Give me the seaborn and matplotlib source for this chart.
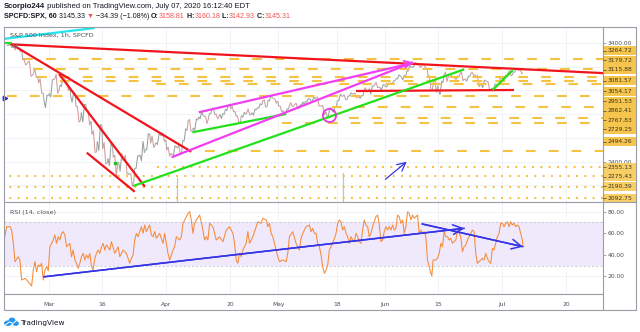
import numpy as np
import pandas as pd
import matplotlib
matplotlib.use("Agg")
import matplotlib.pyplot as plt
import matplotlib.transforms as mtransforms
from matplotlib.collections import LineCollection
from matplotlib.lines import Line2D
from matplotlib.patches import Rectangle, Ellipse
import seaborn as sns

# ------------------------------------------------------------------
# Daily session prices (S&P 500 CFD)
# ------------------------------------------------------------------
dates = ['2020-02-19', '2020-02-20', '2020-02-21', '2020-02-24', '2020-02-25', '2020-02-26',
         '2020-02-27', '2020-02-28', '2020-03-02', '2020-03-03', '2020-03-04', '2020-03-05',
         '2020-03-06', '2020-03-09', '2020-03-10', '2020-03-11', '2020-03-12', '2020-03-13',
         '2020-03-16', '2020-03-17', '2020-03-18', '2020-03-19', '2020-03-20', '2020-03-23',
         '2020-03-24', '2020-03-25', '2020-03-26', '2020-03-27', '2020-03-30', '2020-03-31',
         '2020-04-01', '2020-04-02', '2020-04-03', '2020-04-06', '2020-04-07', '2020-04-08',
         '2020-04-09', '2020-04-13', '2020-04-14', '2020-04-15', '2020-04-16', '2020-04-17',
         '2020-04-20', '2020-04-21', '2020-04-22', '2020-04-23', '2020-04-24', '2020-04-27',
         '2020-04-28', '2020-04-29', '2020-04-30', '2020-05-01', '2020-05-04', '2020-05-05',
         '2020-05-06', '2020-05-07', '2020-05-08', '2020-05-11', '2020-05-12', '2020-05-13',
         '2020-05-14', '2020-05-15', '2020-05-18', '2020-05-19', '2020-05-20', '2020-05-21',
         '2020-05-22', '2020-05-26', '2020-05-27', '2020-05-28', '2020-05-29', '2020-06-01',
         '2020-06-02', '2020-06-03', '2020-06-04', '2020-06-05', '2020-06-08', '2020-06-09',
         '2020-06-10', '2020-06-11', '2020-06-12', '2020-06-15', '2020-06-16', '2020-06-17',
         '2020-06-18', '2020-06-19', '2020-06-22', '2020-06-23', '2020-06-24', '2020-06-25',
         '2020-06-26', '2020-06-29', '2020-06-30', '2020-07-01', '2020-07-02', '2020-07-06',
         '2020-07-07']
opens = [3380.4, 3380.5, 3360.5, 3257.6, 3238.9, 3139.9, 3062.5, 2916.9, 2974.3, 3096.5,
         3045.8, 3075.7, 2954.2, 2863.9, 2813.5, 2825.6, 2630.9, 2570.0, 2508.6, 2425.7,
         2436.5, 2393.5, 2431.9, 2290.7, 2344.4, 2457.8, 2501.3, 2555.9, 2559.0, 2614.7,
         2498.1, 2458.5, 2514.9, 2578.3, 2738.7, 2685.0, 2777.0, 2782.5, 2805.1, 2795.6,
         2799.3, 2842.4, 2845.6, 2784.8, 2787.9, 2810.4, 2812.6, 2854.7, 2910.0, 2918.5,
         2930.9, 2869.1, 2815.0, 2868.9, 2883.1, 2878.3, 2908.8, 2915.5, 2939.5, 2865.9,
         2794.5, 2830.0, 2913.9, 2948.6, 2953.6, 2970.0, 2948.1, 3004.1, 3015.7, 3046.6,
         3025.2, 3031.5, 3064.8, 3098.9, 3111.6, 3163.8, 3199.9, 3213.3, 3213.4, 3123.5,
         3071.0, 2993.8, 3131.0, 3136.1, 3101.6, 3140.3, 3094.4, 3138.7, 3114.4, 3046.6,
         3073.2, 3018.6, 3050.2, 3105.9, 3143.6, 3155.3, 3166.4]
highs = [3393.5, 3389.2, 3360.8, 3259.8, 3247.0, 3182.5, 3097.1, 2959.7, 3091.0, 3136.7,
         3131.0, 3083.0, 2985.9, 2863.9, 2882.6, 2825.6, 2661.0, 2711.3, 2563.0, 2553.9,
         2453.6, 2467.0, 2453.0, 2300.7, 2449.7, 2571.4, 2637.0, 2615.9, 2631.8, 2641.4,
         2522.8, 2533.2, 2538.2, 2676.9, 2756.9, 2760.8, 2818.6, 2782.5, 2851.9, 2801.9,
         2806.5, 2879.2, 2869.0, 2785.5, 2815.1, 2844.2, 2842.7, 2887.7, 2921.4, 2954.9,
         2930.9, 2869.1, 2844.2, 2898.2, 2891.1, 2901.9, 2932.2, 2944.3, 2945.8, 2874.7,
         2852.8, 2865.0, 2968.1, 2964.2, 2980.3, 2978.5, 2956.8, 3021.7, 3036.3, 3068.7,
         3049.2, 3062.2, 3081.1, 3130.9, 3128.9, 3211.7, 3233.1, 3222.7, 3223.3, 3123.5,
         3088.4, 3079.8, 3153.5, 3141.2, 3120.9, 3155.5, 3120.9, 3154.9, 3128.4, 3086.3,
         3073.7, 3053.9, 3111.5, 3128.4, 3165.8, 3182.6, 3184.2]
lows = [3378.8, 3341.0, 3328.5, 3214.7, 3118.8, 3109.0, 2977.4, 2855.8, 2945.2, 2976.6,
        3034.4, 2999.8, 2901.5, 2734.4, 2734.0, 2707.2, 2478.9, 2492.4, 2380.9, 2367.0,
        2280.5, 2319.8, 2295.6, 2191.9, 2344.4, 2407.5, 2500.7, 2520.0, 2545.3, 2571.2,
        2447.5, 2455.8, 2460.0, 2574.6, 2657.7, 2663.3, 2762.4, 2721.2, 2805.1, 2761.5,
        2764.3, 2830.9, 2820.4, 2727.1, 2776.0, 2794.3, 2791.8, 2852.9, 2860.7, 2912.2,
        2892.5, 2821.6, 2797.9, 2863.6, 2847.7, 2876.5, 2902.9, 2903.4, 2869.6, 2793.2,
        2766.6, 2816.8, 2913.9, 2922.4, 2953.6, 2938.6, 2933.6, 2988.2, 2969.8, 3023.4,
        2998.6, 3031.5, 3051.6, 3098.9, 3090.4, 3163.8, 3196.0, 3193.1, 3181.5, 2999.5,
        2984.5, 2965.7, 3076.1, 3108.0, 3093.5, 3083.1, 3079.4, 3127.1, 3033.1, 3024.0,
        3004.6, 2999.7, 3047.8, 3101.2, 3124.5, 3155.3, 3142.9]
closes = [3386.2, 3373.2, 3337.8, 3225.9, 3128.2, 3116.4, 2978.8, 2954.2, 3090.2, 3003.4,
          3130.1, 3023.9, 2972.4, 2746.6, 2882.2, 2741.4, 2480.6, 2711.0, 2386.1, 2529.2,
          2398.1, 2409.4, 2304.9, 2237.4, 2447.3, 2475.6, 2630.1, 2541.5, 2626.7, 2584.6,
          2470.5, 2526.9, 2488.7, 2663.7, 2659.4, 2750.0, 2789.8, 2761.6, 2846.1, 2783.4,
          2799.6, 2874.6, 2823.2, 2736.6, 2799.3, 2797.8, 2836.7, 2878.5, 2863.4, 2939.5,
          2912.4, 2830.7, 2842.7, 2868.4, 2848.4, 2881.2, 2929.8, 2930.3, 2870.1, 2820.0,
          2852.5, 2863.7, 2953.9, 2922.9, 2971.6, 2948.5, 2955.5, 2991.8, 3036.1, 3029.7,
          3044.3, 3055.7, 3080.8, 3122.9, 3112.4, 3193.9, 3232.4, 3207.2, 3190.1, 3002.1,
          3041.3, 3066.6, 3124.7, 3113.5, 3115.3, 3097.7, 3117.9, 3131.3, 3050.3, 3083.8,
          3009.1, 3053.2, 3100.3, 3115.9, 3130.0, 3179.7, 3145.3]

# bad ticks in the CFD feed: (session day, top of the spike)
spike_days = ['2020-04-03', '2020-05-19']
spike_tops = [2262.0, 2302.0]

# RSI(14) readings: position in sessions from 2 March, value
rsi_day = [-8.42, -7.92, -7.30, -6.99, -6.67, -6.36, -5.74, -5.43, -5.12, -4.49, -3.87, -3.24,
           -2.93, -2.62, -2.31, -2.00, -1.68, -1.37, -1.06, -0.75, -0.44, -0.13, 0.19, 0.50,
           0.81, 1.12, 1.44, 1.75, 2.06, 2.37, 2.68, 2.99, 3.31, 3.93, 4.24, 4.55, 4.87, 5.18,
           5.49, 5.80, 6.11, 6.43, 6.74, 7.05, 7.36, 7.67, 7.99, 8.30, 8.61, 8.92, 9.23, 9.54,
           9.86, 10.17, 10.48, 10.79, 11.42, 11.73, 12.35, 12.98, 13.29, 13.91, 14.53, 15.16,
           15.47, 15.78, 16.09, 16.41, 16.72, 17.03, 17.34, 17.65, 17.97, 18.28, 18.90, 19.21,
           19.53, 19.84, 20.15, 20.77, 21.40, 21.71, 22.02, 22.33, 22.64, 22.96, 23.27, 23.58,
           23.89, 24.52, 24.83, 25.14, 25.45, 26.08, 26.39, 26.70, 27.01, 27.32, 27.63, 28.26,
           28.57, 28.88, 29.19, 29.51, 29.82, 30.13, 30.75, 31.38, 32.00, 32.63, 33.25, 33.87,
           34.50, 34.81, 35.12, 35.43, 35.74, 36.06, 36.37, 36.99, 37.30, 37.62, 38.24, 38.86,
           39.18, 39.80, 40.11, 40.73, 41.05, 41.36, 41.67, 41.98, 42.29, 42.92, 43.23, 43.85,
           44.48, 44.79, 45.10, 45.72, 46.35, 46.97, 47.28, 47.60, 48.22, 48.84, 49.16, 49.47,
           49.78, 50.09, 50.40, 50.72, 51.03, 51.34, 51.66, 51.97, 52.28, 52.59, 52.90, 53.22,
           53.84, 54.15, 54.46, 54.77, 55.09, 55.40, 55.71, 56.02, 56.33, 56.65, 56.96, 57.27,
           57.58, 57.89, 58.21, 58.52, 58.83, 59.14, 59.45, 59.77, 60.08, 60.39, 60.70, 61.01,
           61.32, 61.64, 61.95, 62.26, 62.57, 62.88, 63.20, 63.51, 63.82, 64.13, 64.44, 64.76,
           65.07, 65.38, 65.69, 66.00, 66.32, 66.63, 66.94, 67.25, 67.56, 67.87, 68.19, 68.50,
           68.81, 69.12, 69.43, 69.75, 70.06, 70.37, 70.68, 70.99, 71.31, 71.62, 71.80, 72.05,
           72.55, 72.86, 73.18, 73.49, 73.80, 74.11, 74.42, 74.74, 75.05, 75.36, 75.67, 75.98,
           76.30, 76.61, 76.92, 77.23, 77.54, 77.86, 78.17, 78.48, 78.79, 79.10, 79.41, 79.73,
           80.04, 80.35, 80.66, 80.97, 81.29, 81.60, 81.91, 82.22, 82.53, 82.85, 83.16, 83.47,
           83.78, 84.09, 84.41, 84.72, 85.03, 85.34, 85.65, 85.97, 86.28, 86.59, 86.90, 87.21,
           87.53, 87.84, 88.15, 88.46, 88.77, 88.90]
rsi_value = [53.7, 66.1, 66.1, 63.0, 50.6, 33.6, 38.2, 35.2, 16.6, 18.1, 15.0, 11.0,
             25.9, 33.6, 24.3, 30.5, 29.0, 32.1, 16.6, 25.9, 29.0, 25.3, 47.5, 50.6,
             53.7, 58.4, 50.6, 56.8, 53.7, 59.9, 61.5, 58.4, 47.5, 50.6, 38.2, 44.4, 35.2, 32.1,
             27.4, 32.1, 38.2, 41.3, 35.2, 39.8, 36.7, 41.3, 29.0, 25.9, 36.7, 41.3, 44.4, 41.3,
             47.5, 50.6, 44.4, 49.1, 44.4, 52.2, 41.3, 47.5, 38.2, 44.4, 41.3, 32.1,
             36.7, 39.8, 53.7, 59.9, 56.8, 61.5, 66.1, 59.9, 67.6, 61.5, 67.6, 58.4,
             56.8, 61.5, 55.3, 59.9, 50.6, 59.9, 50.6, 41.3, 35.2, 39.8, 44.4, 47.5,
             56.8, 53.7, 56.8, 69.2, 72.3, 78.5, 80.0, 72.3, 59.9, 69.2, 72.3, 76.9,
             70.7, 63.0, 53.7, 56.8, 53.7, 69.2, 66.1, 53.7, 56.8, 52.2, 63.0, 66.1,
             59.9, 50.6, 35.2, 32.1, 41.3, 38.2, 44.4, 50.6, 61.5, 50.6, 56.8, 66.1,
             70.7, 69.2, 73.8, 72.3, 66.1, 69.2, 59.9, 56.8, 50.6, 38.2, 33.6, 35.2,
             33.6, 41.3, 56.8, 61.5, 50.6, 44.4, 55.3, 59.9, 66.1, 67.6, 61.5, 64.5,
             59.9, 59.9, 50.6, 47.5, 39.8, 29.0, 22.8, 25.9, 30.5, 44.4, 47.5, 50.6,
             59.9, 69.2, 72.3, 70.7, 63.0, 66.1, 59.9, 56.8, 50.6, 56.8, 53.7, 52.2,
             59.9, 56.8, 52.2, 50.6, 63.0, 72.3, 67.6, 66.1, 56.8, 59.9, 66.1, 70.7,
             75.4, 76.9, 67.6, 52.2, 53.7, 61.5, 66.1, 63.0, 66.1, 63.0, 67.6, 63.0,
             64.5, 76.9, 75.4, 69.2, 72.3, 59.9, 66.1, 80.0, 78.5, 72.3, 76.9, 73.8,
             75.4, 76.9, 59.9, 63.0, 59.9, 61.5, 56.8, 35.2, 29.0, 22.8, 20.3, 35.2,
             35.2, 36.7, 41.3, 50.6, 47.5, 61.5, 56.8, 56.8, 53.7, 55.3, 50.6, 52.2,
             53.7, 63.0, 59.9, 56.8, 42.9, 47.5, 49.1, 53.7, 56.8, 59.9, 63.0, 61.5,
             41.3, 32.1, 33.6, 35.2, 36.7, 35.2, 41.3, 36.7, 33.6, 32.1, 46.0, 44.4,
             50.6, 56.8, 59.9, 69.2, 69.2, 66.1, 69.2, 70.7, 66.1, 70.7, 67.6, 69.2,
             66.1, 67.6, 66.1, 59.9, 53.7, 47.5]

# horizontal levels: price, first session offset where the line starts
dashed_levels = [3264.72, 3179.72, 3115.88, 3081.57, 3054.17, 2951.53, 2862.41, 2767.83, 2729.25, 2494.26]
dashed_start = [-4.9, -3.0, -2.2, 2.1, 20.0, -7.9, 53.0, 56.3, 43.8, 29.2]
dotted_levels = [2355.13, 2275.43, 2190.39, 2092.75]
dotted_start = [20.2, -9.0, -9.0, -9.0]

# hand-drawn trend lines: (session offset, price) -> (session offset, price)
red_lines = [(-7.3, 3389.0, 105.0, 3144.0), (-7.3, 3397.5, 26.7, 2484.0),
             (1.9, 3139.0, 18.0, 2189.0), (7.1, 2476.0, 16.1, 2147.0),
             (57.6, 2995.6, 87.2, 3004.1)]
green_lines = [(15.8, 2195.3, 77.9, 3178.5), (26.9, 2647.7, 44.5, 2801.9),
               (83.2, 3004.0, 87.0, 3172.6), (-8.6, 3397.5, -6.9, 3397.5)]
magenta_lines = [(23.0, 2437.1, 68.3, 3237.4), (28.1, 2816.2, 68.3, 3231.5)]
cyan_lines = [(-8.6, 3433.7, 8.6, 3526.4)]
blue_price_arrow = (63.1, 2251.7, 67.1, 2400.0)
circle_mark = (52.5, 2793.5)
green_mark = (12.35, 2386.5)
left_marker_price = 2936.7
rsi_arrows = [(-0.9, 19.6, 77.9, 64.6), (70.0, 68.6, 88.9, 47.5)]

price_ticks = [2200, 2400, 2600, 2800, 3000, 3200, 3400]
price_tick_shown = [False, True, False, False, False, False, True]
rsi_ticks = [20, 40, 60, 80]
date_ticks = ['2020-03-02', '2020-03-16', '2020-04-01', '2020-04-20', '2020-05-01',
              '2020-05-18', '2020-06-01', '2020-06-15', '2020-07-01', '2020-07-20']
date_tick_labels = ['Mar', '16', 'Apr', '20', 'May', '18', 'Jun', '15', 'Jul', '20']

# ------------------------------------------------------------------
# session calendar (no weekends / exchange holidays)
# ------------------------------------------------------------------
holidays = pd.to_datetime(['2020-02-17', '2020-04-10', '2020-05-25', '2020-07-03'])
sessions = pd.bdate_range('2020-02-03', '2020-08-31')
sessions = sessions[~sessions.isin(holidays)]
base = sessions.get_loc(pd.Timestamp('2020-03-02'))


def slot(d):
    return sessions.get_loc(pd.Timestamp(d)) - base


# ------------------------------------------------------------------
sns.set_theme(style="white")
plt.rcParams['font.family'] = ['DejaVu Sans']
plt.rcParams['lines.scale_dashes'] = False

W, H = 640, 332
fig = plt.figure(figsize=(W / 100, H / 100), dpi=100)
fig.patch.set_facecolor('white')
px = mtransforms.Affine2D().scale(1.0 / W, -1.0 / H).translate(0, 1) + fig.transFigure

L, R = 4, 603
TOP, MID, BOT, FOOT = 27, 202, 294, 310
ax_p = fig.add_axes([L / W, 1 - MID / H, (R - L) / W, (MID - TOP) / H])
ax_r = fig.add_axes([L / W, 1 - BOT / H, (R - L) / W, (BOT - MID) / H], sharex=ax_p)

XMIN, XMAX = -8.42, 103.9
ax_p.set_xlim(XMIN, XMAX)
ax_p.set_ylim(2060.5, 3534.8)
ax_r.set_ylim(3.6, 89.0)

grid_col = '#eef1f6'
frame_col = '#9a9da6'
text_col = '#4c4f57'
for ax in (ax_p, ax_r):
    ax.set_facecolor('white')
    for s in ax.spines.values():
        s.set_visible(False)
    ax.grid(True, color=grid_col, linewidth=0.6)
    ax.set_axisbelow(True)
    ax.yaxis.tick_right()
    ax.tick_params(axis='y', direction='out', length=2, width=0.5, color='#888',
                   labelsize=4.3, labelcolor=text_col, pad=1.5)

tick_pos = [slot(d) for d in date_ticks]
ax_r.set_xticks(tick_pos)
ax_r.set_xticklabels(date_tick_labels)
ax_r.tick_params(axis='x', direction='out', length=2, width=0.5, color='#888',
                 labelsize=4.3, labelcolor=text_col, pad=4)
ax_p.tick_params(axis='x', length=0, labelbottom=False)

ax_p.set_yticks(price_ticks)
ax_p.set_yticklabels([f'{v:.2f}' if show else '' for v, show in zip(price_ticks, price_tick_shown)])
ax_r.set_yticks(rsi_ticks)
ax_r.set_yticklabels([f'{v:.2f}' for v in rsi_ticks])

# ---- price path: each session drawn open -> extreme -> extreme -> close ----
segs, cols = [], []
prev = None
for d, o, h, lo, c in zip(dates, opens, highs, lows, closes):
    s = slot(d)
    if c >= o:
        path = [(s + 0.08, o), (s + 0.35, lo), (s + 0.65, h), (s + 0.92, c)]
        col = '#98a19e'
    else:
        path = [(s + 0.08, o), (s + 0.35, h), (s + 0.65, lo), (s + 0.92, c)]
        col = '#d69a9a'
    if prev is not None:
        segs.append([prev, path[0]])
        cols.append('#a8a8a8')
    segs.append(path)
    cols.append(col)
    prev = path[-1]
ax_p.add_collection(LineCollection(segs, colors=cols, linewidths=0.75, zorder=3))

for d, top in zip(spike_days, spike_tops):
    s = slot(d) + 0.1
    ax_p.plot([s, s], [top, 2000], color='#c8c0c0', lw=0.9, zorder=3)

# ---- horizontal levels ----
lvl_col = '#f5c242'
for p, x0 in zip(dashed_levels, dashed_start):
    ax_p.plot([x0, XMAX + 1], [p, p], color=lvl_col, lw=1.5, dashes=(7.0, 9.5),
              solid_capstyle='butt', dash_capstyle='butt', zorder=4)
for p, x0 in zip(dotted_levels, dotted_start):
    ax_p.plot([x0, XMAX + 1], [p, p], color=lvl_col, lw=1.5, dashes=(1.4, 4.6),
              dash_capstyle='butt', zorder=4)

# ---- trend lines ----
def seg(ax, ln, color, lw=1.6, z=6):
    ax.plot([ln[0], ln[2]], [ln[1], ln[3]], color=color, lw=lw, solid_capstyle='butt', zorder=z)

for ln in red_lines:
    seg(ax_p, ln, '#f2141c')
for ln in green_lines:
    seg(ax_p, ln, '#22e01a')
for ln in magenta_lines:
    seg(ax_p, ln, '#f03ef0')
for ln in cyan_lines:
    seg(ax_p, ln, '#22e4ee', z=7)

ax_p.annotate('', xy=magenta_lines[0][2:], xytext=(magenta_lines[0][2] - 2, magenta_lines[0][3] - 20),
              arrowprops=dict(arrowstyle='->,head_length=0.5,head_width=0.25', color='#f03ef0',
                              lw=1.3, shrinkA=0, shrinkB=0, mutation_scale=10), zorder=7)
ax_p.annotate('', xy=blue_price_arrow[2:], xytext=blue_price_arrow[:2],
              arrowprops=dict(arrowstyle='->,head_length=0.6,head_width=0.3', color='#3434e6',
                              lw=0.9, shrinkA=0, shrinkB=0, mutation_scale=10), zorder=7)
ax_p.plot([circle_mark[0]], [circle_mark[1]], marker='o', markersize=9.5, markerfacecolor='none',
          markeredgecolor='#e838e0', markeredgewidth=1.3, zorder=7)
ax_p.plot([green_mark[0]], [green_mark[1]], marker='s', markersize=2, color='#22c01a', zorder=7)
ax_p.plot([XMIN + 0.25], [left_marker_price], marker='>', markersize=3.2, color='#3030e0',
          clip_on=False, zorder=8)

# ---- RSI pane ----
ax_r.axhspan(30, 70, facecolor='#f0e8fb', lw=0)
for v in (30, 70):
    ax_r.axhline(v, color='#b9b9c4', lw=0.5, dashes=(1.5, 1.5))
sns.lineplot(x=rsi_day, y=rsi_value, ax=ax_r, color='#f68b3a', linewidth=0.75,
             sort=False, estimator=None, zorder=4)
ax_r.set_xlabel('')
ax_r.set_ylabel('')
ax_r.set_xlim(XMIN, XMAX)
for a in rsi_arrows:
    ax_r.plot([a[0], a[2]], [a[1], a[3]], color='#3434e6', lw=1.1, zorder=6)
    ax_r.annotate('', xy=a[2:], xytext=a[:2],
                  arrowprops=dict(arrowstyle='->,head_length=0.7,head_width=0.35', color='#3434e6',
                                  lw=1.1, shrinkA=0, shrinkB=0, mutation_scale=10), zorder=6)

# ---- frame ----
def px_line(xs, ys, **kw):
    fig.add_artist(Line2D(xs, ys, transform=px, **kw))

fc = dict(color=frame_col, lw=0.8)
px_line([L, 636], [TOP, TOP], **fc)
px_line([L, 636], [FOOT, FOOT], **fc)
px_line([L, L], [TOP, FOOT], **fc)
px_line([636, 636], [TOP, FOOT], **fc)
px_line([R, R], [TOP, FOOT], **fc)
px_line([L, 636], [MID, MID], **fc)
px_line([L, R], [BOT, BOT], **fc)

# ---- price labels on the scale ----
label_rows = [50.7, 60.2, 69.6, 80.8, 91.2, 101.2, 110.7, 120.0, 129.3, 141.7,
              167.3, 176.7, 186.2, 198.3]
all_levels = dashed_levels + dotted_levels
for i, (p, yc) in enumerate(zip(all_levels, label_rows)):
    fcol = '#f6c54e' if i < len(dashed_levels) else '#f8cf66'
    fig.add_artist(Rectangle((R + 0.5, yc - 4.6), 636 - R - 1, 9.2, transform=px,
                             facecolor=fcol, edgecolor='none'))
    px_line([R, R + 2.5], [yc, yc], color='#5a4a20', lw=0.5)
    fig.text(R + 4.5, yc, f'{p:.2f}', transform=px, fontsize=4.3, color='#3a3320',
             va='center', ha='left')

# ---- text ----
fig.text(10, 35.5, 'S&P 500 Index, 1h, SPCFD', transform=px, fontsize=4.6,
         color='#4c4f57', va='center', ha='left')
fig.text(10, 46.5, 'Vol', transform=px, fontsize=4.0, color='#777', va='center', ha='left')
fig.text(10, 212.3, 'RSI (14, close)', transform=px, fontsize=4.6, color='#4c4f57',
         va='center', ha='left')

renderer = fig.canvas.get_renderer()
head_font = ['Liberation Sans', 'DejaVu Sans']


def put_pieces(x, y, pieces, size, right_edge):
    # measure once, then rescale so the row ends at right_edge
    width = 0
    for s, color, weight in pieces:
        t = fig.text(0, 0, s, fontsize=size, fontweight=weight, family=head_font)
        width += t.get_window_extent(renderer).width
        t.remove()
    size = size * (right_edge - x) / width
    for s, color, weight in pieces:
        t = fig.text(x, y, s, transform=px, fontsize=size, color=color, fontweight=weight,
                     family=head_font, va='center', ha='left')
        x += t.get_window_extent(renderer).width


dark = '#131722'
red = '#ef5350'
put_pieces(4, 6.7, [('Scorpio244', dark, 'bold'),
                    (' published on TradingView.com, July 07, 2020 16:12:40 EDT', dark, 'normal')],
           5.0, 251.5)
put_pieces(4, 16.7, [('SPCFD:SPX, 60', dark, 'bold'), (' 3145.33 ', dark, 'normal'),
                     ('\u25bc', red, 'normal'), (' \u221234.39 (\u22121.08%) ', dark, 'normal'),
                     ('O:', dark, 'bold'), ('3158.81', red, 'normal'),
                     (' H:', dark, 'bold'), ('3160.18', red, 'normal'),
                     (' L:', dark, 'bold'), ('3142.93', red, 'normal'),
                     (' C:', dark, 'bold'), ('3145.31', red, 'normal')], 5.0, 293.0)

# ---- TradingView mark ----
logo = '#2196f3'
for (cx, cy, w, h) in [(8.0, 323.2, 8, 5.5), (12.0, 320.8, 7, 6.5), (15.8, 323.4, 6, 5)]:
    fig.add_artist(Ellipse((cx, cy), w, h, transform=px, facecolor=logo, edgecolor='none'))
px_line([5.5, 9.5, 12.5, 16.5], [324.8, 321.8, 323.5, 320.8], color='white', lw=0.7)
fig.text(20, 322.7, 'TradingView', transform=px, fontsize=5.3, color=dark, va='center', ha='left')

fig.savefig('out.png', dpi=100, facecolor='white')
